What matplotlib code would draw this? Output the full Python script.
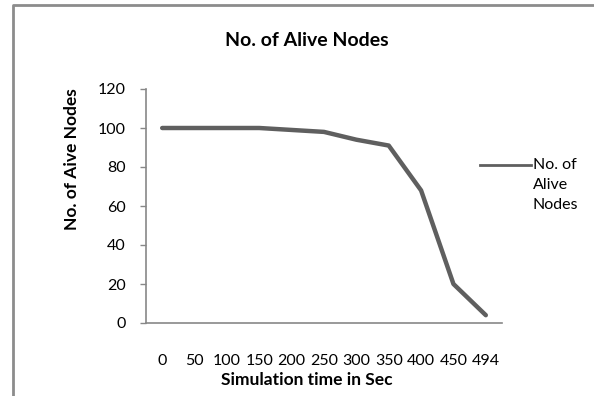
import matplotlib.pyplot as plt
from matplotlib.lines import Line2D

plt.rcParams['font.family'] = ['Lato', 'DejaVu Sans']

time_labels = ["0", "50", "100", "150", "200", "250", "300", "350", "400", "450", "494"]
alive_nodes = [100, 100, 100, 100, 99, 98, 94, 91, 68, 20, 4]
y_ticks = [0, 20, 40, 60, 80, 100, 120]

W, H = 594, 396
fig = plt.figure(figsize=(W / 100, H / 100), dpi=100)
ax = fig.add_axes([146 / W, 1 - 323 / H, (502 - 146) / W, (323 - 89) / H])

x = list(range(len(time_labels)))
line_color = "#5f5f5f"
axis_color = "#878787"

ax.plot(x, alive_nodes, color=line_color, linewidth=3.2, solid_capstyle="round",
        solid_joinstyle="round")

ax.set_xlim(-0.5, len(time_labels) - 0.5)
ax.set_ylim(0, 120)
ax.set_xticks(x)
ax.set_xticklabels(time_labels)
ax.set_yticks(y_ticks)

for side in ["top", "right"]:
    ax.spines[side].set_visible(False)
for side in ["left", "bottom"]:
    ax.spines[side].set_color(axis_color)
    ax.spines[side].set_linewidth(1.2)

ax.tick_params(axis="x", length=0, pad=22, labelsize=11.5)
ax.tick_params(axis="y", length=4.5, width=1.0, color=axis_color, pad=10, labelsize=11.5)

fig.text(307 / W, 1 - 41 / H, "No. of Alive Nodes", ha="center", va="center",
         fontsize=14, fontweight="bold")
fig.text(307 / W, 1 - 380 / H, "Simulation time in Sec", ha="center", va="center",
         fontsize=12.5, fontweight="bold")
fig.text(72 / W, 1 - 159 / H, "No. of Aive Nodes", ha="center", va="center",
         rotation=90, fontsize=12.5, fontweight="bold")

# legend
fig.add_artist(Line2D([480 / W, 531 / W], [1 - 165 / H, 1 - 165 / H],
                      color=line_color, linewidth=2.0, transform=fig.transFigure))
for i, word in enumerate(["No. of", "Alive", "Nodes"]):
    fig.text(533 / W, 1 - (165 + 20 * i) / H, word, ha="left", va="center", fontsize=11.5)

# chart frame (top and left edges visible)
fig.add_artist(Line2D([12.5 / W, 12.5 / W, 1], [0, 1 - 5 / H, 1 - 5 / H],
                      color="#8c8c8c", linewidth=2.0, transform=fig.transFigure))

fig.savefig("out.png", dpi=100)
